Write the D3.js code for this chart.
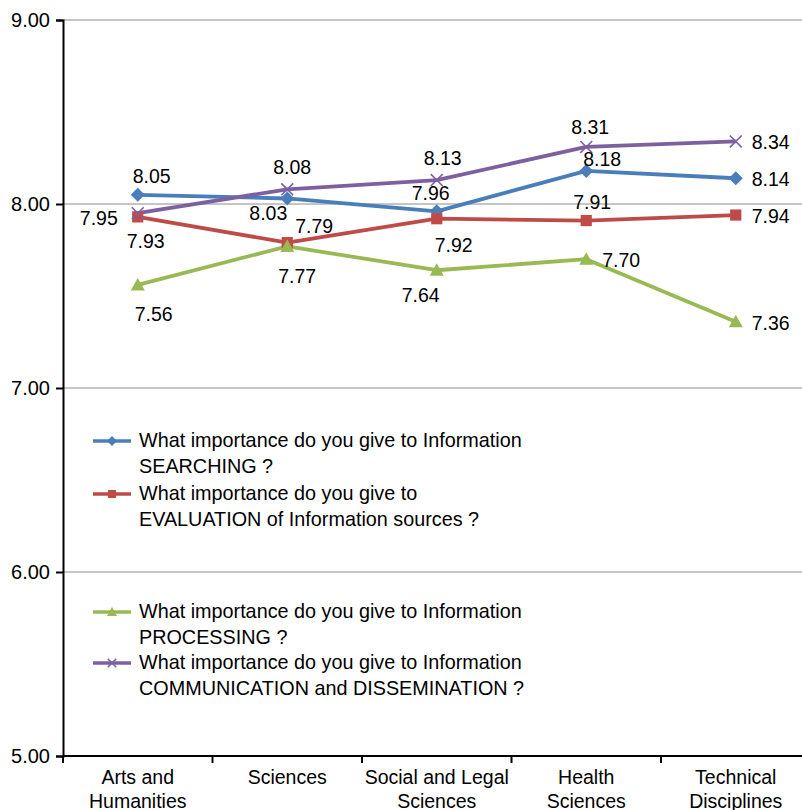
<!DOCTYPE html>
<html><head><meta charset="utf-8">
<script src="https://cdn.jsdelivr.net/npm/d3@7"></script>
<style>body{margin:0;background:#fff}svg{display:block;font-family:"Liberation Sans",Arial,sans-serif}</style>
</head><body><svg id="c" width="802" height="810"></svg>
<script>
const categories = [["Arts and","Humanities"],["Sciences"],["Social and Legal","Sciences"],["Health","Sciences"],["Technical","Disciplines"]];
const yTicks = [5,6,7,8,9];
const searching = [8.05,8.03,7.96,8.18,8.14];
const evaluation = [7.93,7.79,7.92,7.91,7.94];
const processing = [7.56,7.77,7.64,7.70,7.36];
const communication = [7.95,8.08,8.13,8.31,8.34];
const seriesNames = [
 ["What importance do you give to Information","SEARCHING ?"],
 ["What importance do you give to","EVALUATION of Information sources ?"],
 ["What importance do you give to Information","PROCESSING ?"],
 ["What importance do you give to Information","COMMUNICATION and DISSEMINATION ?"]];
// label placement (style): [dx, dy, anchor] relative to the marker
const labelStyle = [
 [[14,-12,"middle"],[0,22,"end"],[-6,-11,"middle"],[16,-5,"middle"],[16,8,"start"]],
 [[8,31,"middle"],[8,-10,"start"],[17,33,"middle"],[6,-12,"middle"],[16,8,"start"]],
 [[16,36,"middle"],[10,37,"middle"],[-16,32,"middle"],[16,8,"start"],[16,8,"start"]],
 [[-20,12,"end"],[5,-15,"middle"],[6,-15,"middle"],[4,-13,"middle"],[16,8,"start"]]];
const colors = ["#4a7ebb","#be4b48","#98b954","#7d60a0"];
const shapes = ["diamond","square","triangle","x"];
const data = [searching,evaluation,processing,communication];

const svg = d3.select("#c");
const L=63, R=810.5, T=20, B=756;
const x = d3.scaleBand().domain(d3.range(categories.length)).range([L,R]);
const y = d3.scaleLinear().domain([5,9]).range([B,T]);
const cx = i => x(i)+x.bandwidth()/2;

// grid
svg.append("g").selectAll("line").data(yTicks.filter(t=>t>5)).join("line")
 .attr("x1",L).attr("x2",802).attr("y1",d=>y(d)).attr("y2",d=>y(d))
 .attr("stroke","#8c8c8c").attr("stroke-width",1);

// y axis
const ya = svg.append("g").attr("transform",`translate(${L},0)`)
 .call(d3.axisLeft(y).tickValues(yTicks).tickFormat(d3.format(".2f")).tickSize(7).tickPadding(6));
ya.select(".domain").attr("stroke","#000").attr("stroke-width",2);
ya.selectAll(".tick line").attr("stroke","#000").attr("stroke-width",2);
ya.selectAll("text").attr("font-size",20).attr("fill","#000").attr("font-family","Liberation Sans, Arial, sans-serif");

// x axis
const xa = svg.append("g").attr("transform",`translate(0,${B})`);
xa.append("line").attr("x1",L).attr("x2",802).attr("stroke","#000").attr("stroke-width",2);
xa.selectAll(".tk").data(d3.range(categories.length+1)).join("line")
 .attr("x1",d=>L+d*x.bandwidth()).attr("x2",d=>L+d*x.bandwidth()).attr("y1",0).attr("y2",7)
 .attr("stroke","#000").attr("stroke-width",2);
xa.selectAll(".cl").data(categories).join("text")
 .attr("text-anchor","middle").attr("font-size",19.5).attr("fill","#000")
 .each(function(d,i){
   d3.select(this).selectAll("tspan").data(d).join("tspan")
     .attr("x",cx(i)).attr("y",(t,j)=>28+j*24).text(t=>t);
 });

function marker(g, shape, color, s){
  if(shape==="diamond"){
    g.append("path").attr("d",`M0,${-s}L${s},0L0,${s}L${-s},0Z`).attr("fill",color);
  } else if(shape==="square"){
    g.append("rect").attr("x",-s*0.8).attr("y",-s*0.8).attr("width",s*1.6).attr("height",s*1.6).attr("fill",color);
  } else if(shape==="triangle"){
    g.append("path").attr("d",`M0,${-s}L${s},${s*0.8}L${-s},${s*0.8}Z`).attr("fill",color);
  } else {
    g.append("path").attr("d",`M${-s*0.85},${-s*0.85}L${s*0.85},${s*0.85}M${-s*0.85},${s*0.85}L${s*0.85},${-s*0.85}`)
     .attr("stroke",color).attr("stroke-width",1.6).attr("fill","none");
  }
}

const line = d3.line().x((d,i)=>cx(i)).y(d=>y(d));
data.forEach((vals,k)=>{
  svg.append("path").datum(vals).attr("d",line).attr("fill","none")
   .attr("stroke",colors[k]).attr("stroke-width",3.8).attr("stroke-linejoin","round");
});
data.forEach((vals,k)=>{
  vals.forEach((v,i)=>{
    const g = svg.append("g").attr("transform",`translate(${cx(i)},${y(v)})`);
    marker(g, shapes[k], colors[k], 7);
  });
});
// labels
data.forEach((vals,k)=>{
  vals.forEach((v,i)=>{
    const o = labelStyle[k][i];
    svg.append("text").attr("x",cx(i)+o[0]).attr("y",y(v)+o[1]).attr("text-anchor",o[2])
      .attr("font-size",19.5).attr("fill","#000").text(v.toFixed(2));
  });
});

// legend
const legY = [441,494,612,663];
seriesNames.forEach((nm,k)=>{
  const g = svg.append("g").attr("transform",`translate(0,${legY[k]})`);
  g.append("line").attr("x1",93).attr("x2",131).attr("stroke",colors[k]).attr("stroke-width",3.5);
  const m = g.append("g").attr("transform","translate(112,0)");
  marker(m, shapes[k], colors[k], 5);
  g.append("text").attr("font-size",19.8).attr("fill","#000")
   .selectAll("tspan").data(nm).join("tspan").attr("x",139).attr("y",(t,j)=>6+j*26).text(t=>t);
});
</script></body></html>
